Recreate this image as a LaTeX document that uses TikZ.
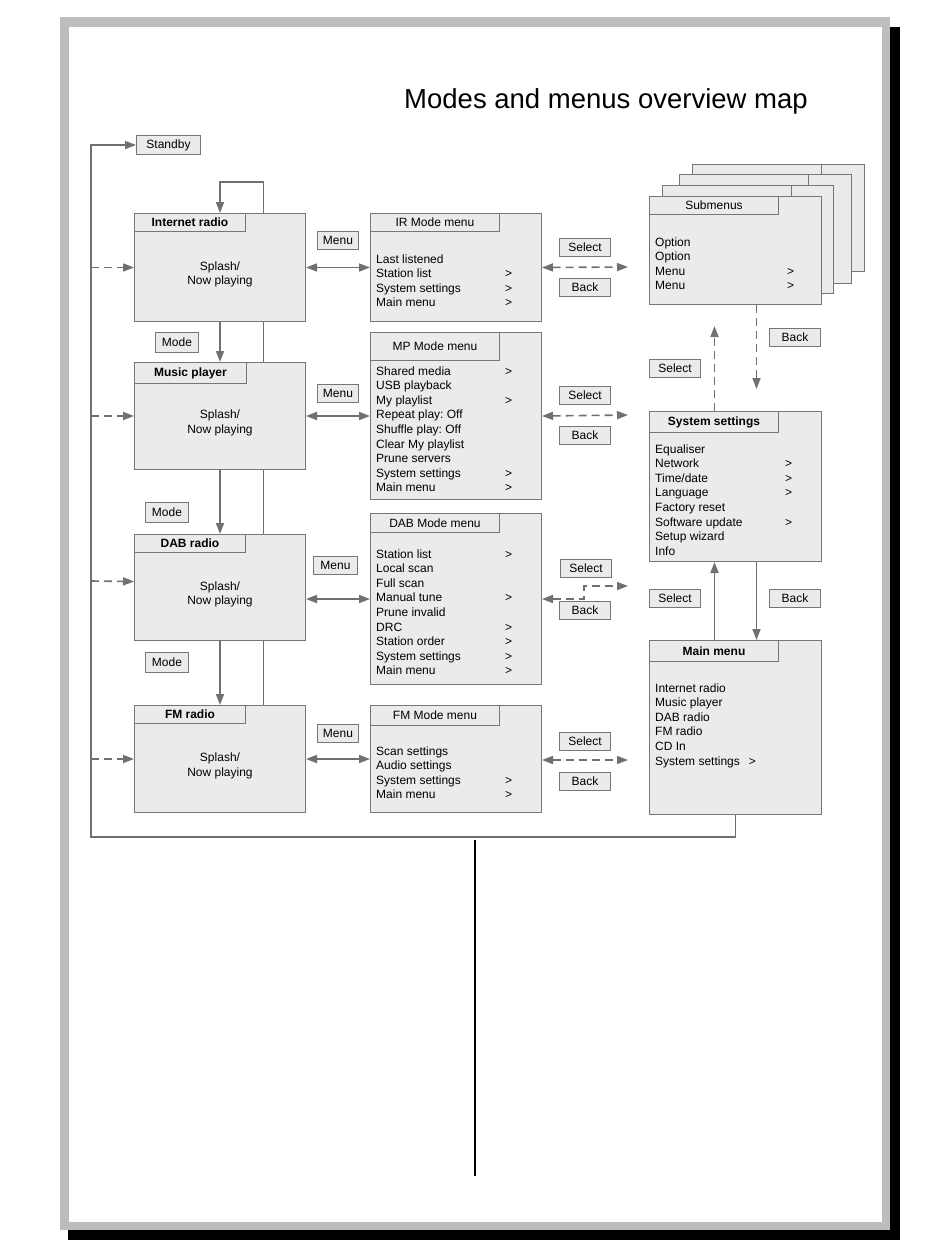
\documentclass[tikz,border=0pt]{standalone}
\usepackage{fontspec}
\setmainfont{Liberation Sans}
\usetikzlibrary{arrows.meta}

\definecolor{panelfill}{HTML}{EBEBEB}
\definecolor{panelline}{HTML}{767676}
\definecolor{wirecol}{HTML}{707070}
\definecolor{framegray}{HTML}{BDBDBD}

\newcommand{\menufont}{\fontsize{12}{14.6}\selectfont\frenchspacing}

\tikzset{
  panel/.style={draw=panelline,fill=panelfill,line width=1pt,anchor=north west,inner sep=0pt},
  tab/.style={panel,font=\menufont},
  modetab/.style={panel,font=\menufont\bfseries},
  keybox/.style={panel,font=\menufont,minimum height=18pt},
  items/.style={anchor=base west,inner sep=0pt,font=\menufont},
  splash/.style={align=center,inner sep=0pt,font=\menufont},
  wire/.style={draw=wirecol,line width=1.6pt},
  dwire/.style={wire,dash pattern=on 8pt off 5pt}
}

\begin{document}
\begin{tikzpicture}[x=1pt,y=-1pt,>={Triangle[length=11pt,width=8pt]}]
 \useasboundingbox[fill=white] (0,0) rectangle (950,1248);
 % page frame
 \fill[black] (68,27) rectangle (900,1240);
 \fill[framegray] (60,17) rectangle (890,1230);
 \fill[white] (69,27) rectangle (882,1222);
 \draw[black,line width=1.5pt] (475,840) -- (475,1176);

 \node[font=\fontsize{27.5}{31}\selectfont] (title) at (606,101) {Modes and menus overview map};

 % modes
 \node[panel,minimum width=171pt,minimum height=108pt] (ir) at (134,213) {};
 \node[modetab,minimum width=111pt,minimum height=18pt] (irtab) at (134,213) {Internet radio};
 \node[splash] (irtxt) at ([yshift=-7pt]ir.center) {Splash/\\Now playing};

 \node[panel,minimum width=171pt,minimum height=107pt] (mp) at (134,362) {};
 \node[modetab,minimum width=112pt,minimum height=21pt] (mptab) at (134,362) {Music player};
 \node[splash] (mptxt) at ([yshift=-7pt]mp.center) {Splash/\\Now playing};

 \node[panel,minimum width=171pt,minimum height=106pt] (dab) at (134,534) {};
 \node[modetab,minimum width=111pt,minimum height=18pt] (dabtab) at (134,534) {DAB radio};
 \node[splash] (dabtxt) at ([yshift=-7pt]dab.center) {Splash/\\Now playing};

 \node[panel,minimum width=171pt,minimum height=107pt] (fm) at (134,705) {};
 \node[modetab,minimum width=111pt,minimum height=18pt] (fmtab) at (134,705) {FM radio};
 \node[splash] (fmtxt) at ([yshift=-7pt]fm.center) {Splash/\\Now playing};

 % mode menus
 \node[panel,minimum width=171pt,minimum height=108pt] (irm) at (370,213) {};
 \node[tab,minimum width=129pt,minimum height=18pt] (irmtab) at (370,213) {IR Mode menu};
 \node[items] (irmlist) at (376,263) {\begin{tabular}[t]{@{}p{129pt}@{}l@{}}
   Last listened & \\ Station list & > \\ System settings & > \\ Main menu & >
 \end{tabular}};

 \node[panel,minimum width=171pt,minimum height=167pt] (mpm) at (370,332) {};
 \node[tab,minimum width=129pt,minimum height=28pt] (mpmtab) at (370,332) {MP Mode menu};
 \node[items] (mpmlist) at (376,375) {\begin{tabular}[t]{@{}p{129pt}@{}l@{}}
   Shared media & > \\ USB playback & \\ My playlist & > \\ Repeat play: Off & \\
   Shuffle play: Off & \\ Clear My playlist & \\ Prune servers & \\
   System settings & > \\ Main menu & >
 \end{tabular}};

 \node[panel,minimum width=171pt,minimum height=171pt] (dabm) at (370,513) {};
 \node[tab,minimum width=129pt,minimum height=19pt] (dabmtab) at (370,513) {DAB Mode menu};
 \node[items] (dabmlist) at (376,558) {\begin{tabular}[t]{@{}p{129pt}@{}l@{}}
   Station list & > \\ Local scan & \\ Full scan & \\ Manual tune & > \\
   Prune invalid & \\ DRC & > \\ Station order & > \\ System settings & > \\ Main menu & >
 \end{tabular}};

 \node[panel,minimum width=171pt,minimum height=107pt] (fmm) at (370,705) {};
 \node[tab,minimum width=129pt,minimum height=20pt] (fmmtab) at (370,705) {FM Mode menu};
 \node[items] (fmmlist) at (376,755) {\begin{tabular}[t]{@{}p{129pt}@{}l@{}}
   Scan settings & \\ Audio settings & \\ System settings & > \\ Main menu & >
 \end{tabular}};

 % submenu stack
 \node[panel,minimum width=172pt,minimum height=107pt] (sub4) at (692,164) {};
 \node[tab,minimum width=129pt,minimum height=18pt] (sub4tab) at (692,164) {};
 \node[panel,minimum width=172pt,minimum height=109pt] (sub3) at (679,174) {};
 \node[tab,minimum width=129pt,minimum height=18pt] (sub3tab) at (679,174) {};
 \node[panel,minimum width=171pt,minimum height=108pt] (sub2) at (662,185) {};
 \node[tab,minimum width=129pt,minimum height=18pt] (sub2tab) at (662,185) {};
 \node[panel,minimum width=172pt,minimum height=108pt] (sub) at (649,196) {};
 \node[tab,minimum width=129pt,minimum height=18pt] (subtab) at (649,196) {Submenus};
 \node[items] (sublist) at (655,246) {\begin{tabular}[t]{@{}p{132pt}@{}l@{}}
   Option & \\ Option & \\ Menu & > \\ Menu & >
 \end{tabular}};

 \node[panel,minimum width=172pt,minimum height=150pt] (sys) at (649,411) {};
 \node[modetab,minimum width=129pt,minimum height=21pt] (systab) at (649,411) {System settings};
 \node[items] (syslist) at (655,453) {\begin{tabular}[t]{@{}p{130pt}@{}l@{}}
   Equaliser & \\ Network & > \\ Time/date & > \\ Language & > \\ Factory reset & \\
   Software update & > \\ Setup wizard & \\ Info &
 \end{tabular}};

 \node[panel,minimum width=172pt,minimum height=174pt] (main) at (649,640) {};
 \node[modetab,minimum width=129pt,minimum height=21pt] (maintab) at (649,640) {Main menu};
 \node[items] (mainlist) at (655,692) {\begin{tabular}[t]{@{}l@{}}
   Internet radio \\ Music player \\ DAB radio \\ FM radio \\ CD In \\ System settings\hspace{9pt}>
 \end{tabular}};

 % key labels
 \node[keybox,minimum width=64pt,minimum height=19pt] (standby) at (136,135) {Standby};
 \node[keybox,minimum width=41pt] (irmenu) at (317,231) {Menu};
 \node[keybox,minimum width=41pt] (mpmenu) at (317,384) {Menu};
 \node[keybox,minimum width=44pt] (dabmenu) at (313,556) {Menu};
 \node[keybox,minimum width=41pt] (fmmenu) at (317,724) {Menu};
 \node[keybox,minimum width=43pt,minimum height=20pt] (mode1) at (155,332) {Mode};
 \node[keybox,minimum width=43pt,minimum height=20pt] (mode2) at (145,502) {Mode};
 \node[keybox,minimum width=43pt,minimum height=20pt] (mode3) at (145,652) {Mode};
 \node[keybox,minimum width=51pt] (irsel) at (559,238) {Select};
 \node[keybox,minimum width=51pt] (irback) at (559,278) {Back};
 \node[keybox,minimum width=51pt] (mpsel) at (559,386) {Select};
 \node[keybox,minimum width=51pt] (mpback) at (559,426) {Back};
 \node[keybox,minimum width=51pt] (dabsel) at (560,559) {Select};
 \node[keybox,minimum width=51pt] (dabback) at (559,601) {Back};
 \node[keybox,minimum width=51pt] (fmsel) at (559,732) {Select};
 \node[keybox,minimum width=51pt] (fmback) at (559,772) {Back};
 \node[keybox,minimum width=51pt] (subsel) at (649,359) {Select};
 \node[keybox,minimum width=51pt] (subback) at (769,328) {Back};
 \node[keybox,minimum width=51pt] (syssel) at (649,589) {Select};
 \node[keybox,minimum width=51pt] (sysback) at (769,589) {Back};

 % free ends
 \coordinate (bus) at (91,145);
 \coordinate (irout) at (628,267);
 \coordinate (mpout) at (628,415);
 \coordinate (dabout) at (628,586);
 \coordinate (fmout) at (628,760);

 % mode cycle
 \draw[wire,->] ([xshift=43.5pt]ir.north) -- ++(0,-31) -| (ir.north);
 \draw[wire,->] (ir.south) -- (mp.north);
 \draw[wire,->] (mp.south) -- (dab.north);
 \draw[wire,->] (dab.south) -- (fm.north);
 \draw[wire] ([xshift=43.5pt]ir.south) -- ([xshift=43.5pt]mp.north);
 \draw[wire] ([xshift=43.5pt]mp.south) -- ([xshift=43.5pt]dab.north);
 \draw[wire] ([xshift=43.5pt]dab.south) -- ([xshift=43.5pt]fm.north);

 % standby loop
 \draw[wire,->] (main.south) -- ++(0,22) -| (bus) -- (standby.west);
 \draw[dwire,->] (bus |- ir.west) -- (ir.west);
 \draw[dwire,->] (bus |- mp.west) -- (mp.west);
 \draw[dwire,->] (bus |- 0,581) -- ([yshift=6pt]dab.west);
 \draw[dwire,->] (bus |- fm.west) -- (fm.west);

 % menu keys
 \draw[wire,<->] (ir) -- (irm);
 \draw[wire,<->] (mp) -- (mpm);
 \draw[wire,<->] (dab.east |- dabm.east) -- (dabm.west);
 \draw[wire,<->] (fm) -- (fmm);

 % select / back
 \draw[dwire,<->] (irm.east) -- (irout);
 \draw[dwire,<->] (mpm.east) -- (mpout);
 \draw[dwire,<->] (dabm.east) -- ++(42,0) |- (dabout);
 \draw[dwire,<->] (fmm.east |- fmout) -- (fmout);
 \draw[dwire,->,shorten >=21pt] ([xshift=-21pt]sys.north) -- ([xshift=-21pt]sub.south);
 \draw[dwire,->,shorten >=22pt] ([xshift=21pt]sub.south) -- ([xshift=21pt]sys.north);
 \draw[wire,->] ([xshift=-21pt]main.north) -- ([xshift=-21pt]sys.south);
 \draw[wire,->] ([xshift=21pt]sys.south) -- ([xshift=21pt]main.north);
\end{tikzpicture}
\end{document}
